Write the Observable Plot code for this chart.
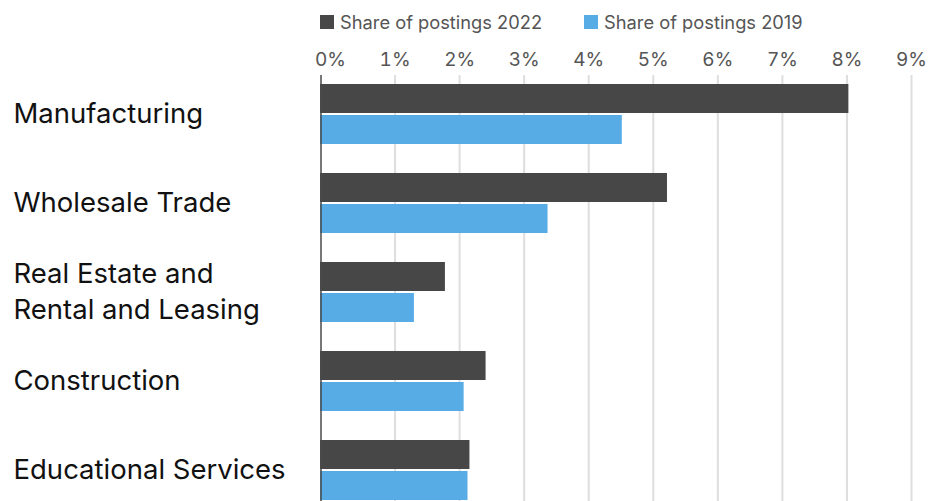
<!DOCTYPE html>
<html>
<head>
<meta charset="utf-8">
<script src="https://cdn.jsdelivr.net/npm/d3@7"></script>
<script src="https://cdn.jsdelivr.net/npm/@observablehq/plot@0.6"></script>
<style>
  html, body { margin: 0; padding: 0; background: #fff; }
  body { width: 933px; height: 501px; overflow: hidden; font-family: Inter, "Noto Sans", sans-serif; }
  #legend { height: 36px; padding-top: 4px; display: flex; align-items: center; padding-left: 320px; font-size: 18.3px; color: #555; }
  .item { display: flex; align-items: center; margin-right: 42px; }
  .swatch { width: 14px; height: 14px; margin-right: 6px; }
  svg { display: block; }
</style>
</head>
<body>
<div id="legend"></div>
<div id="chart"></div>
<script>
const categories = ["Manufacturing", "Wholesale Trade", "Real Estate and Rental and Leasing", "Construction", "Educational Services"];
const categoryLabels = ["Manufacturing", "Wholesale Trade", "Real Estate and\nRental and Leasing", "Construction", "Educational Services"];
const series = ["Share of postings 2022", "Share of postings 2019"];
const share2022 = [8.03, 5.22, 1.78, 2.41, 2.16];
const share2019 = [4.52, 3.37, 1.30, 2.07, 2.13];
const xTicks = [0, 1, 2, 3, 4, 5, 6, 7, 8, 9];
const colors = ["#474747", "#58ace6"];

const data2022 = categories.map((c, i) => ({category: c, value: share2022[i]}));
const data2019 = categories.map((c, i) => ({category: c, value: share2019[i]}));

const legend = document.getElementById("legend");
series.forEach((s, i) => {
  const item = document.createElement("div");
  item.className = "item";
  const sw = document.createElement("div");
  sw.className = "swatch";
  sw.style.background = colors[i];
  const t = document.createElement("span");
  t.textContent = s;
  item.appendChild(sw);
  item.appendChild(t);
  legend.appendChild(item);
});

const chart = Plot.plot({
  width: 933,
  height: 461,
  marginTop: 43,
  marginBottom: 0,
  marginLeft: 330,
  marginRight: 22,
  style: {fontFamily: "Inter, 'Noto Sans', sans-serif", fontSize: "19px", color: "#555", background: "#fff"},
  x: {domain: [xTicks[0], xTicks[xTicks.length - 1]], axis: "top", ticks: 10, tickFormat: d => d + "%", tickSize: 0, tickPadding: 18, label: null},
  y: {domain: categories, axis: null, paddingInner: 0.33, paddingOuter: 0},
  marks: [
    Plot.ruleX(xTicks.filter(t => t > 0), {stroke: "#dedede", strokeWidth: 2, insetTop: -8}),
    Plot.barX(data2022, {x: "value", y: "category", fill: colors[0], insetBottom: 31, insetLeft: -10}),
    Plot.barX(data2019, {x: "value", y: "category", fill: colors[1], insetTop: 31, insetLeft: -10}),
    Plot.ruleX([0], {dx: -9.5, stroke: "#4a4a4a", strokeWidth: 1.5, insetTop: -8}),
    Plot.text(categories, {y: d => d, text: (d, i) => categoryLabels[i], frameAnchor: "left", textAnchor: "start", dx: -317, dy: -3, fontSize: 27.5, fill: "#111", lineHeight: 1.3})
  ]
});
document.getElementById("chart").appendChild(chart);
</script>
</body>
</html>
